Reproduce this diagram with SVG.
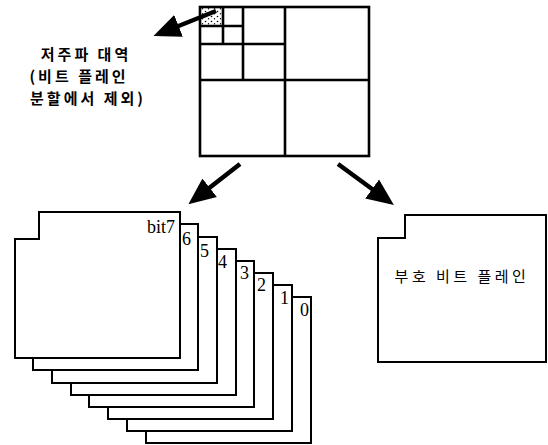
<svg xmlns="http://www.w3.org/2000/svg" width="548" height="445" viewBox="0 0 548 445">
<style>
.grid{fill:none;stroke:#000;stroke-width:2.6}
.plane{fill:#fff;stroke:#000;stroke-width:2}
.ko{font-family:"Noto Sans CJK KR","Noto Sans",sans-serif;font-size:15px;fill:#000}
.num{font-family:"Liberation Serif",serif;font-size:18px;fill:#000}
.arr{stroke:#000;stroke-width:4.5;fill:none}
</style>
<defs>
<marker id="ah" markerWidth="6" markerHeight="6" refX="3" refY="3" orient="auto" markerUnits="strokeWidth" viewBox="0 0 6 6">
<path d="M0,0.4 L6,3 L0,5.6 Z" fill="#000"/>
</marker>
<pattern id="dots" width="6" height="5" patternUnits="userSpaceOnUse">
<circle cx="1.5" cy="1.5" r="0.8" fill="#000"/>
<circle cx="4.5" cy="3.8" r="0.7" fill="#000"/>
</pattern>
<path id="pl" d="M0,27 H24 V0 H165 V146 H0 Z"/>
</defs>
<g id="wavelet-grid">
<rect x="200" y="7" width="23" height="19" fill="url(#dots)"/>
<rect class="grid" x="200" y="7" width="169" height="149"/>
<line class="grid" x1="285" y1="7" x2="285" y2="156"/>
<line class="grid" x1="200" y1="80" x2="369" y2="80"/>
<line class="grid" x1="243" y1="7" x2="243" y2="80"/>
<line class="grid" x1="200" y1="44" x2="285" y2="44"/>
<line class="grid" x1="223" y1="7" x2="223" y2="44"/>
<line class="grid" x1="200" y1="26" x2="243" y2="26"/>
</g>
<g id="lowband-label">
<text class="ko" x="86" y="60" text-anchor="middle" font-weight="bold" letter-spacing="3">저주파 대역</text>
<text class="ko" x="79" y="82" text-anchor="middle" font-weight="bold" letter-spacing="3">(비트 플레인</text>
<text class="ko" x="88" y="104" text-anchor="middle" font-weight="bold" letter-spacing="3">분할에서 제외)</text>
</g>
<g id="bit-planes">
<use href="#pl" class="plane" transform="translate(146,297)"/>
<use href="#pl" class="plane" transform="translate(127,285)"/>
<use href="#pl" class="plane" transform="translate(108,273)"/>
<use href="#pl" class="plane" transform="translate(89,261)"/>
<use href="#pl" class="plane" transform="translate(71,249)"/>
<use href="#pl" class="plane" transform="translate(52,237)"/>
<use href="#pl" class="plane" transform="translate(33,224)"/>
<use href="#pl" class="plane" transform="translate(15,212)"/>
<text class="num" x="175" y="233" text-anchor="end">bit7</text>
<text class="num" x="182" y="245">6</text>
<text class="num" x="200" y="257">5</text>
<text class="num" x="218" y="268">4</text>
<text class="num" x="240" y="279">3</text>
<text class="num" x="257" y="291">2</text>
<text class="num" x="280" y="304">1</text>
<text class="num" x="300" y="316">0</text>
</g>
<g id="sign-plane">
<path class="plane" d="M378,238 H405 V215 H546 V362 H378 Z"/>
<text class="ko" x="462" y="282" text-anchor="middle" font-size="16" letter-spacing="3.5">부호 비트 플레인</text>
</g>
<g id="connectors">
<line class="arr" x1="216" y1="11" x2="166" y2="31" marker-end="url(#ah)"/>
<line class="arr" x1="240" y1="164" x2="199" y2="196" marker-end="url(#ah)"/>
<line class="arr" x1="338" y1="164" x2="383" y2="197" marker-end="url(#ah)"/>
</g>
</svg>
